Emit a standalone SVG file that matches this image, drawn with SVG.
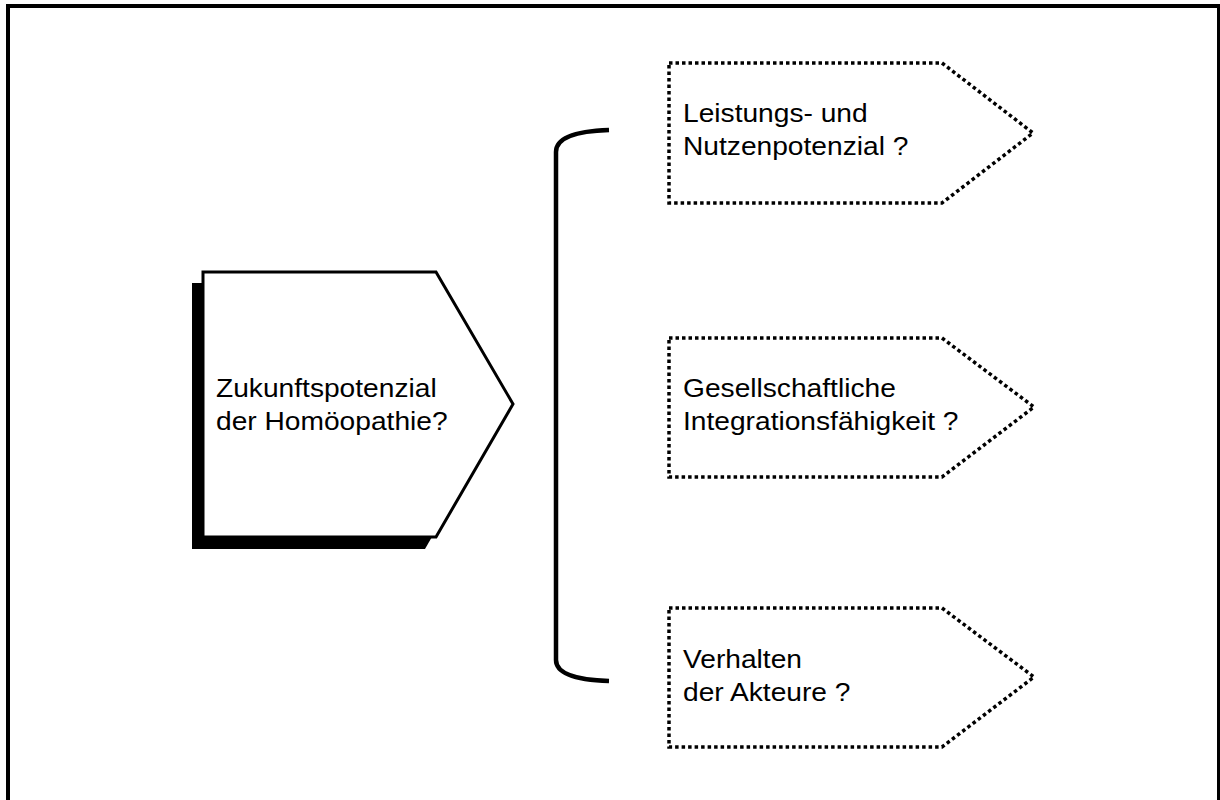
<svg xmlns="http://www.w3.org/2000/svg" width="1220" height="800" viewBox="0 0 1220 800">
  <style>
    text { font-family: "Liberation Sans", Arial, sans-serif; font-size: 26px; fill: #000; }
    .frame { fill: none; stroke: #000; stroke-width: 4; }
    .main { fill: #fff; stroke: #000; stroke-width: 3; stroke-linejoin: miter; }
    .shadow { fill: #000; stroke: none; }
    .dotted { fill: #fff; stroke: #000; stroke-width: 3.5; stroke-dasharray: 3.5 3; }
    .brace { fill: none; stroke: #000; stroke-width: 4.5; stroke-linecap: butt; }
  </style>
  <rect width="1220" height="800" fill="#fff"/>
  <rect class="frame" x="8" y="6" width="1211" height="820"/>

  <!-- central arrow node with drop shadow -->
  <g id="zukunftspotenzial">
    <polygon class="shadow" points="192,283 425,283 502,415 425,549 192,549"/>
    <polygon class="main" points="203,272 436,272 513,404 436,537 203,537"/>
    <g transform="translate(216,397) scale(1.083,1)">
      <text x="0" y="0">Zukunftspotenzial</text>
      <text x="0" y="33">der Homöopathie?</text>
    </g>
  </g>

  <!-- bracket linking the centre node to the three questions -->
  <g id="connectors">
    <path class="brace" d="M609,130 C578,131 556,137 556,152 L556,660 C556,674 578,680 609,681"/>
  </g>

  <g id="leistung">
    <polygon class="dotted" points="669,63 942,63 1033,133 942,203 669,203"/>
    <g transform="translate(683,122) scale(1.083,1)">
      <text x="0" y="0">Leistungs- und</text>
      <text x="0" y="33">Nutzenpotenzial ?</text>
    </g>
  </g>

  <g id="integration">
    <polygon class="dotted" points="669,338 942,338 1034,407 942,477 669,477"/>
    <g transform="translate(683,397) scale(1.083,1)">
      <text x="0" y="0">Gesellschaftliche</text>
      <text x="0" y="33">Integrationsfähigkeit ?</text>
    </g>
  </g>

  <g id="akteure">
    <polygon class="dotted" points="669,608 942,608 1034,677 942,747 669,747"/>
    <g transform="translate(683,668) scale(1.083,1)">
      <text x="0" y="0">Verhalten</text>
      <text x="0" y="33">der Akteure ?</text>
    </g>
  </g>
</svg>
